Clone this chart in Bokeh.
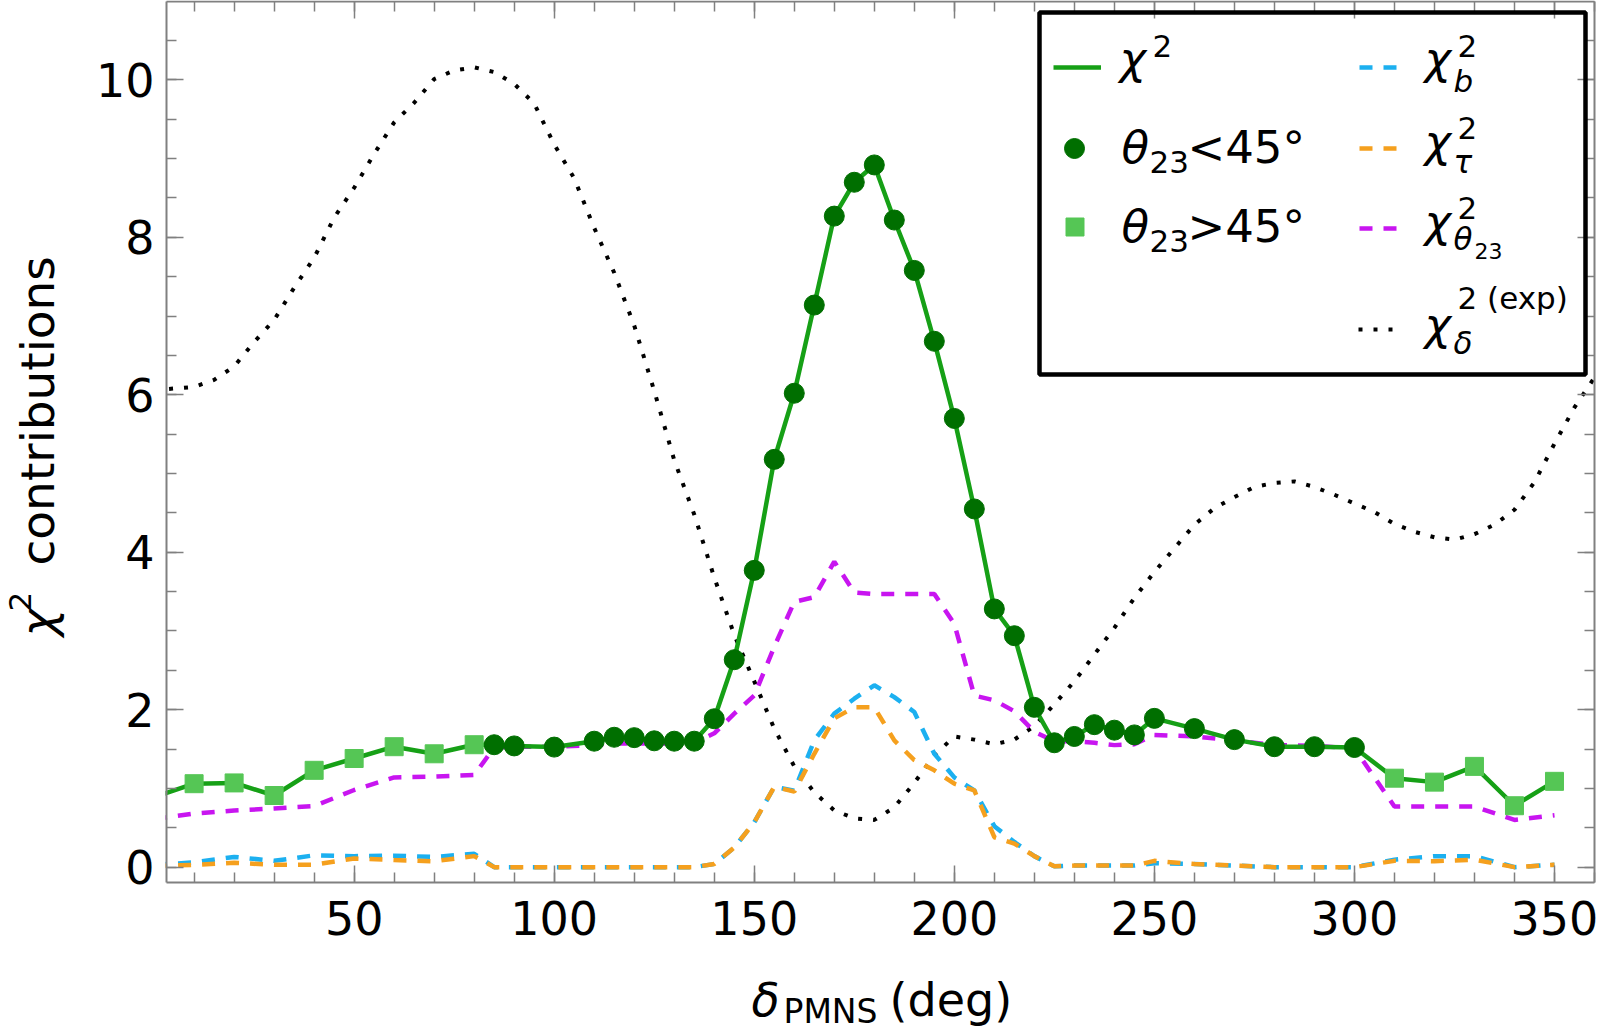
from math import pi
from bokeh.plotting import figure
from bokeh.models import (Range1d, LinearAxis, SingleIntervalTicker, Label, Legend,
                          LegendItem, BoxAnnotation, CustomJSTickFormatter, ColumnDataSource)
from bokeh.embed import file_html
from bokeh.resources import INLINE

# ---------------- data ----------------
delta_scan = [0, 10, 20, 30, 40, 50, 60, 70, 80,
              85, 90, 100, 110, 115, 120, 125, 130, 135, 140, 145, 150, 155, 160,
              165, 170, 175, 180, 185, 190, 195, 200, 205, 210, 215, 220, 225, 230,
              235, 240, 245, 250, 260, 270, 280, 290, 300,
              310, 320, 330, 340, 350]
chi2_total = [0.89, 1.06, 1.07, 0.91, 1.23, 1.38, 1.53, 1.44, 1.555,
              1.555, 1.54, 1.525, 1.60, 1.65, 1.645, 1.605, 1.60, 1.60, 1.885, 2.635, 3.77, 5.18, 6.02,
              7.14, 8.27, 8.70, 8.92, 8.22, 7.58, 6.68, 5.70, 4.55, 3.28, 2.94, 2.03, 1.58, 1.66,
              1.81, 1.74, 1.68, 1.89, 1.76, 1.62, 1.53, 1.53, 1.52,
              1.13, 1.08, 1.28, 0.78, 1.09]
theta23_octant = ["upper"] * 9 + ["lower"] * 37 + ["upper"] * 5
chi2_b = [0.03, 0.06, 0.13, 0.08, 0.15, 0.14, 0.145, 0.13, 0.17,
          0.0, 0.0, 0.0, 0.0, 0.0, 0.0, 0.0, 0.0, 0.0, 0.04, 0.25, 0.57, 1.02, 0.97,
          1.61, 1.95, 2.14, 2.31, 2.16, 1.97, 1.44, 1.14, 0.975, 0.52, 0.32, 0.14, 0.01, 0.02,
          0.02, 0.02, 0.02, 0.05, 0.04, 0.02, 0.0, 0.0, 0.0,
          0.095, 0.14, 0.14, 0.0, 0.03]
chi2_tau = [0.015, 0.03, 0.055, 0.03, 0.03, 0.11, 0.09, 0.075, 0.14,
            0.0, 0.0, 0.0, 0.0, 0.0, 0.0, 0.0, 0.0, 0.0, 0.04, 0.25, 0.57, 1.02, 0.96,
            1.44, 1.89, 2.03, 2.03, 1.61, 1.36, 1.23, 1.06, 0.975, 0.38, 0.30, 0.14, 0.01, 0.02,
            0.02, 0.02, 0.02, 0.08, 0.04, 0.02, 0.0, 0.0, 0.0,
            0.08, 0.075, 0.095, 0.0, 0.03]
chi2_theta23 = [0.61, 0.68, 0.72, 0.745, 0.775, 0.98, 1.14, 1.15, 1.17,
                1.52, 1.53, 1.53, 1.55, 1.57, 1.57, 1.57, 1.57, 1.58, 1.70, 1.95, 2.18, 2.80, 3.37,
                3.43, 3.88, 3.49, 3.47, 3.47, 3.47, 3.47, 3.09, 2.18, 2.12, 1.98, 1.72, 1.60, 1.60,
                1.58, 1.55, 1.56, 1.68, 1.66, 1.61, 1.55, 1.54, 1.51,
                0.77, 0.77, 0.77, 0.60, 0.66]
delta_exp = list(range(0, 365, 5))
chi2_delta_exp = [6.06, 6.08, 6.10, 6.19, 6.36, 6.67, 6.95, 7.36, 7.74, 8.25, 8.63, 9.06, 9.46,
                  9.71, 10.01, 10.12, 10.16, 10.10, 9.95, 9.70, 9.18, 8.75, 8.12, 7.55, 6.88,
                  6.05, 5.17, 4.48, 3.68, 2.95, 2.36, 1.76, 1.28, 0.95, 0.72, 0.62, 0.60, 0.76,
                  1.07, 1.42, 1.66, 1.62, 1.56, 1.62, 1.79, 2.07, 2.36, 2.70, 3.04, 3.42, 3.75,
                  4.05, 4.35, 4.56, 4.70, 4.83, 4.88, 4.90, 4.83, 4.73, 4.62, 4.51, 4.36, 4.26,
                  4.19, 4.16, 4.23, 4.35, 4.54, 4.89, 5.38, 5.84, 6.22]

# ---------------- geometry (page pixels; the canvas fills the page) ----------------
PAGE_W, PAGE_H = 1600, 1034
BOX_L, BOX_R, BOX_T, BOX_B = 166, 1594, 1, 882      # the framed plot box
X_LO, X_HI = 3.1, 360.0
Y_LO, Y_HI = -0.195, 10.996
SX = (BOX_R - BOX_L) / (X_HI - X_LO)
SY = (BOX_B - BOX_T) / (Y_HI - Y_LO)
BASE_SHIFT = 0.381          # Label baseline offset (ascent - x-height) in em

FONT = "DejaVu Sans"
AXIS_GRAY = "#808080"
C_TOTAL = "#16a016"
C_LOW = "#006f00"
C_UP = "#55c655"
C_B = "#1cb0f0"
C_TAU = "#f5a01e"
C_TH = "#c815f0"

p = figure(width=PAGE_W, height=PAGE_H, output_backend="svg", toolbar_location=None,
           x_axis_type=None, y_axis_type=None, min_border=0,
           x_range=Range1d(X_LO - BOX_L / SX, X_LO + (PAGE_W - BOX_L) / SX),
           y_range=Range1d(Y_LO - (PAGE_H - BOX_B) / SY, Y_LO + BOX_B / SY))
p.outline_line_color = None
p.background_fill_color = "white"
p.border_fill_color = "white"

xticker = SingleIntervalTicker(interval=50, num_minor_ticks=5)
yticker = SingleIntervalTicker(interval=2, num_minor_ticks=4)


def make_axis(ticker, loc, bounds, side, labels, standoff=0):
    ax = LinearAxis(ticker=ticker, fixed_location=loc, bounds=bounds)
    ax.axis_line_color = AXIS_GRAY
    ax.axis_line_width = 2
    ax.major_tick_line_color = AXIS_GRAY
    ax.minor_tick_line_color = AXIS_GRAY
    ax.major_tick_line_width = 1.5
    ax.minor_tick_line_width = 1.5
    ax.major_tick_in = 17
    ax.major_tick_out = 0
    ax.minor_tick_in = 10
    ax.minor_tick_out = 0
    ax.major_label_text_font = FONT
    ax.major_label_text_color = "black"
    ax.major_label_standoff = standoff
    if labels:
        ax.major_label_text_font_size = "46px"
    else:
        ax.formatter = CustomJSTickFormatter(code="return ''")
        ax.major_label_text_font_size = "0px"
    p.add_layout(ax, side)


# ---------------- series ----------------
src = ColumnDataSource(dict(delta=delta_scan, total=chi2_total, b=chi2_b,
                            tau=chi2_tau, th=chi2_theta23))
exp_src = ColumnDataSource(dict(delta=delta_exp, chi2=chi2_delta_exp))
low_src = ColumnDataSource(dict(
    delta=[d for d, o in zip(delta_scan, theta23_octant) if o == "lower"],
    total=[c for c, o in zip(chi2_total, theta23_octant) if o == "lower"]))
up_src = ColumnDataSource(dict(
    delta=[d for d, o in zip(delta_scan, theta23_octant) if o == "upper"],
    total=[c for c, o in zip(chi2_total, theta23_octant) if o == "upper"]))

r_exp = p.line("delta", "chi2", source=exp_src, line_color="black", line_width=4,
               line_dash="4 11")
r_b = p.line("delta", "b", source=src, line_color=C_B, line_width=4.5, line_dash="13 11")
r_tau = p.line("delta", "tau", source=src, line_color=C_TAU, line_width=4.5, line_dash="13 11")
r_th = p.line("delta", "th", source=src, line_color=C_TH, line_width=4.5, line_dash="13 11")
r_tot = p.line("delta", "total", source=src, line_color=C_TOTAL, line_width=4.5,
               line_join="round")
r_low = p.scatter("delta", "total", source=low_src, marker="circle", size=20,
                  fill_color=C_LOW, line_color=C_LOW)
r_up = p.scatter("delta", "total", source=up_src, marker="square", size=18,
                 fill_color=C_UP, line_color=C_UP)

# keep the curves inside the plot box: blank out the margin left of the box
cover = BoxAnnotation(left=0, right=BOX_L - 1, bottom=0, top=PAGE_H,
                      left_units="screen", right_units="screen",
                      top_units="screen", bottom_units="screen",
                      fill_color="white", fill_alpha=1.0, line_color=None, level="glyph")
p.renderers.append(cover)

# ---------------- frame axes (drawn on the box edges) ----------------
make_axis(xticker, Y_LO, (X_LO, X_HI), "below", True, standoff=18)
make_axis(yticker, X_LO, (Y_LO, Y_HI), "left", True, standoff=12)
make_axis(xticker, Y_HI, (X_LO, X_HI), "above", False)
make_axis(yticker, X_HI, (Y_LO, Y_HI), "right", False)

# ---------------- legend ----------------
p.add_layout(BoxAnnotation(left=1039, right=1585, top=PAGE_H - 12, bottom=PAGE_H - 374,
                           left_units="screen", right_units="screen",
                           top_units="screen", bottom_units="screen",
                           fill_color=None, line_color="black", line_alpha=1.0,
                           line_width=4.5))


def key(renderer, cx, cy, gw, gh):
    return Legend(items=[LegendItem(label="", renderers=[renderer])],
                  location=(cx - gw / 2, PAGE_H - cy - gh / 2),
                  orientation="vertical", padding=0, margin=0, spacing=0,
                  glyph_width=gw, glyph_height=gh, label_width=0, label_height=0,
                  label_standoff=0, label_text_font_size="1px",
                  border_line_color=None, background_fill_color=None)


for r, cx, cy, gw, gh in ((r_tot, 1077, 67, 48, 20), (r_low, 1074, 148, 50, 50),
                          (r_up, 1074, 226, 45, 45), (r_b, 1378, 67, 38, 20),
                          (r_tau, 1378, 148, 38, 20), (r_th, 1378, 228, 38, 20),
                          (r_exp, 1378, 329, 40, 20)):
    p.add_layout(key(r, cx, cy, gw, gh))


def text(t, px, py, size, italic=False, rotated=False):
    """Place text so that its baseline starts at page pixel (px, py)."""
    shift = BASE_SHIFT * size
    if rotated:
        px, angle = px - shift, pi / 2
    else:
        py, angle = py - shift, 0.0
    p.add_layout(Label(x=px, y=PAGE_H - py, x_units="screen", y_units="screen",
                       text=t, text_font=FONT, text_font_size=f"{size}px",
                       text_font_style="italic" if italic else "normal",
                       text_color="black", text_align="left", text_baseline="alphabetic",
                       angle=angle))


# legend texts, left column
text("χ", 1119, 75, 45, True)
text("2", 1152, 57, 31)
text("θ", 1121, 164, 45, True)
text("23", 1149, 173, 31)
text("<45°", 1187, 164, 45)
text("θ", 1121, 243, 45, True)
text("23", 1149, 252, 31)
text(">45°", 1187, 243, 45)
# legend texts, right column
text("χ", 1424, 75, 45, True)
text("2", 1457, 57, 31)
text("b", 1453, 92, 31, True)
text("χ", 1424, 158, 45, True)
text("2", 1457, 139, 31)
text("τ", 1453, 173, 31, True)
text("χ", 1424, 238, 45, True)
text("2", 1457, 219, 31)
text("θ", 1453, 250, 31, True)
text("23", 1474, 259, 22)
text("χ", 1424, 341, 45, True)
text("2 (exp)", 1457, 309, 31)
text("δ", 1453, 354, 31, True)

# axis titles
text("δ", 751, 1017, 46, True)
text("PMNS", 783, 1024, 33)
text("(deg)", 889, 1017, 46)
text("χ", 55, 636, 47, True, rotated=True)
text("2", 31, 611, 31, rotated=True)
text("contributions", 55, 565, 47, rotated=True)

open("out.html", "w").write(file_html(p, INLINE))
